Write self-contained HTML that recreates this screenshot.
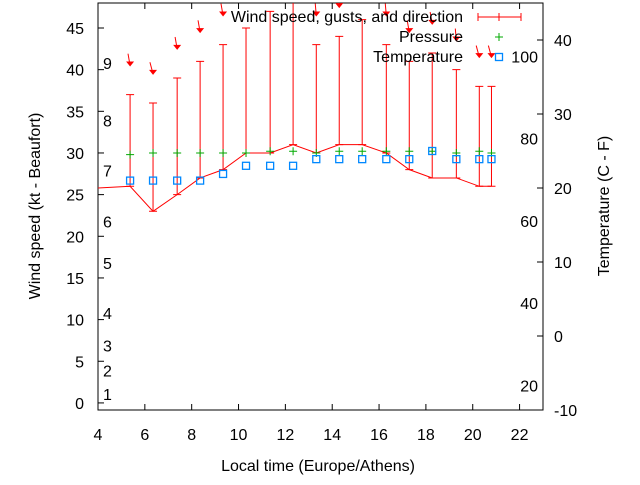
<!DOCTYPE html>
<html><head><meta charset="utf-8"><style>
body{margin:0;background:#fff}
svg{font-family:"Liberation Sans",sans-serif;font-size:16px}
</style></head><body>
<svg id="c" width="640" height="480" viewBox="0 0 640 480"></svg>
<script>
const hours=[4.0,5.37,6.35,7.38,8.36,9.34,10.32,11.35,12.33,13.32,14.3,15.28,16.31,17.29,18.27,19.3,20.28,20.8];
const windKt=[25.8,26,23,25,27,28,30,30,31,30,31,31,30,28,27,27,26,26];
const gustKt=[null,37,36,39,41,43,45,47,48.5,43,44,46,43,41,42,40,38,38];
const dirDeg=[null,350,345,350,350,350,355,0,0,355,350,350,355,350,350,355,345,345];
const pressure=[null,29.8,30,30,30,30,30,30.2,30.2,30,30.2,30.2,30.2,30.2,30.2,30,30.2,30];
const tempC=[null,21,21,21,21,21.9,23,23,23,23.9,23.9,23.9,23.9,23.9,25,23.9,23.9,23.9];
const xTicks=[4,6,8,10,12,14,16,18,20,22];
const yTicks=[0,5,10,15,20,25,30,35,40,45];
const y2Ticks=[-10,0,10,20,30,40];
const beaufort=[[1,1.1],[2,3.9],[3,6.9],[4,10.8],[5,16.8],[6,21.8],[7,27.9],[8,33.9],[9,40.8]];
const fahr=[20,40,60,80,100];

const L=98,R=543,T=3,B=410;
const X=v=>L+(v-4)/(23-4)*(R-L);
const Y=v=>B-(v+0.85)/(48+0.85)*(B-T);
const Y2=v=>B-(v+10)/(45+10)*(B-T);
const ns="http://www.w3.org/2000/svg";
const svg=document.getElementById('c');
function el(tag,attrs,parent){const e=document.createElementNS(ns,tag);for(const k in attrs)e.setAttribute(k,attrs[k]);(parent||svg).appendChild(e);return e;}
function txt(s,x,y,anchor,name,extra){const t=el('text',Object.assign({x:x,y:y,'text-anchor':anchor||'middle'},extra||{}));t.textContent=s;return t;}

const defs=el('defs',{});
const cp=el('clipPath',{id:'clip'},defs);el('rect',{x:L,y:T,width:R-L,height:B-T},cp);

const frame=el('rect',{x:L,y:T,width:R-L,height:B-T,fill:'none',stroke:'#000','stroke-width':1});



xTicks.forEach(v=>{const x=X(v);el('line',{x1:x,y1:B,x2:x,y2:B-6,stroke:'#000'});el('line',{x1:x,y1:T,x2:x,y2:T+6,stroke:'#000'});txt(String(v),x,440,'middle','x-tick-label');});
yTicks.forEach(v=>{const y=Y(v);el('line',{x1:L,y1:y,x2:L+6,y2:y,stroke:'#000'});txt(String(v),84,y+6,'end','y-tick-label');});
y2Ticks.forEach(v=>{const y=Y2(v);el('line',{x1:R,y1:y,x2:R-6,y2:y,stroke:'#000'});txt(String(v),554,y+6,'start','y2-tick-label');});
beaufort.forEach(b=>txt(String(b[0]),103,Y(b[1])+6,'start','beaufort-label'));
fahr.forEach(f=>txt(String(f),538,Y2((f-32)*5/9)+6,'end','fahrenheit-label'));

txt('Local time (Europe/Athens)',318,471,'middle','x-axis-title');
txt('Wind speed (kt - Beaufort)',0,0,'middle','y-axis-title',{transform:'translate(40,206) rotate(-90)'});
txt('Temperature (C - F)',0,0,'middle','y2-axis-title',{transform:'translate(609,206) rotate(-90)'});

const g=el('g',{'clip-path':'url(#clip)'});



let pts=hours.map((h,i)=>X(h)+','+Y(windKt[i])).join(' ');
const wl=el('polyline',{points:pts,fill:'none',stroke:'#f00','stroke-width':1},g);


hours.forEach((h,i)=>{
  if(gustKt[i]==null)return;
  const x=X(h),y1=Y(windKt[i]),y2=Y(gustKt[i]);
  const b=el('path',{d:`M${x},${y1}V${y2}M${x-4},${y2}H${x+4}M${x-4},${y1}H${x+4}`,stroke:'#f00',fill:'none'},g);
  
  
  const ay=Y(gustKt[i]+3.5),a=dirDeg[i]*Math.PI/180,len=12;
  const sx=x+Math.sin(a)*len, sy=ay-Math.cos(a)*len;
  const ar=el('g',{},g);
  
  
  el('line',{x1:sx,y1:sy,x2:x,y2:ay,stroke:'#f00','stroke-width':1},ar);
  el('path',{d:`M${x},${ay+1}l-4,-5h8z`,fill:'#f00'},ar);
  const py=Y(pressure[i]);
  const p=el('path',{d:`M${x-4},${py}H${x+4}M${x},${py-4}V${py+4}`,stroke:'#0a0'},g);
  
  
  const ty=Y2(tempC[i]);
  const s=el('rect',{x:x-3.5,y:ty-3.5,width:7,height:7,fill:'none',stroke:'#08f','stroke-width':1.3},g);
  
  
});

txt('Wind speed, gusts, and direction',463,22,'end','legend-wind-label');
const lw=el('path',{d:'M478,17H521M478,13V21M521,13V21M499,13V21',stroke:'#f00',fill:'none'});


txt('Pressure',463,42,'end','legend-pressure-label');
const lp=el('path',{d:'M495,37H503M499,33V41',stroke:'#0a0'});


txt('Temperature',463,62,'end','legend-temperature-label');
const lt=el('rect',{x:495.5,y:53.5,width:7,height:7,fill:'none',stroke:'#08f','stroke-width':1.3});


</script>
</body></html>
